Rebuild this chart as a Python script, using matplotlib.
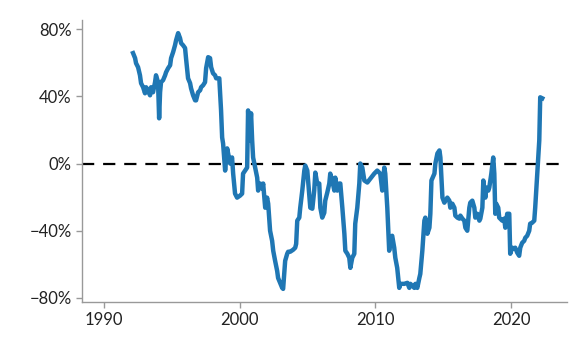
import matplotlib.pyplot as plt
import matplotlib.ticker as mticker

plt.rcParams['font.family'] = ['Lato', 'DejaVu Sans']

# decimal year / percent
years = [
    1992.16, 1992.31, 1992.38, 1992.53, 1992.67, 1992.75, 1992.90, 1993.04, 1993.12, 1993.26,
    1993.41, 1993.49, 1993.63, 1993.78, 1993.85, 1994.00, 1994.08, 1994.15, 1994.22, 1994.37,
    1994.52, 1994.59, 1994.74, 1994.89, 1994.96, 1995.11, 1995.25, 1995.33, 1995.48, 1995.62,
    1995.70, 1995.84, 1995.99, 1996.06, 1996.21, 1996.36, 1996.43, 1996.58, 1996.73, 1996.80,
    1996.95, 1997.10, 1997.17, 1997.32, 1997.46, 1997.54, 1997.69, 1997.83, 1997.91, 1998.05,
    1998.20, 1998.28, 1998.51, 1998.64, 1998.72, 1998.79, 1998.94, 1999.09, 1999.16, 1999.31,
    1999.45, 1999.53, 1999.67, 1999.82, 2000.04, 2000.19, 2000.26, 2000.41, 2000.56, 2000.63,
    2000.71, 2000.85, 2000.93, 2001.00, 2001.15, 2001.30, 2001.37, 2001.52, 2001.67, 2001.74,
    2001.89, 2002.03, 2002.11, 2002.25, 2002.40, 2002.48, 2002.62, 2002.77, 2002.84, 2002.99,
    2003.14, 2003.21, 2003.36, 2003.51, 2003.58, 2003.73, 2003.95, 2004.10, 2004.17, 2004.25,
    2004.40, 2004.47, 2004.62, 2004.77, 2004.84, 2004.99, 2005.13, 2005.21, 2005.36, 2005.50,
    2005.58, 2005.72, 2005.87, 2005.95, 2006.09, 2006.24, 2006.31, 2006.46, 2006.61, 2006.68,
    2006.83, 2006.98, 2007.05, 2007.20, 2007.35, 2007.42, 2007.57, 2007.72, 2007.79, 2007.94,
    2008.08, 2008.16, 2008.30, 2008.45, 2008.52, 2008.67, 2008.82, 2008.89, 2009.04, 2009.19,
    2009.41, 2009.63, 2009.92, 2010.14, 2010.36, 2010.51, 2010.66, 2010.73, 2010.88, 2011.02,
    2011.10, 2011.24, 2011.39, 2011.47, 2011.61, 2011.76, 2011.83, 2012.13, 2012.36, 2012.50,
    2012.58, 2012.87, 2012.95, 2013.09, 2013.24, 2013.31, 2013.46, 2013.61, 2013.68, 2013.83,
    2013.98, 2014.05, 2014.13, 2014.35, 2014.42, 2014.57, 2014.72, 2014.79, 2014.94, 2015.08,
    2015.30, 2015.45, 2015.52, 2015.67, 2015.82, 2015.89, 2016.04, 2016.19, 2016.26, 2016.41,
    2016.55, 2016.63, 2016.77, 2016.92, 2016.99, 2017.14, 2017.29, 2017.36, 2017.51, 2017.66,
    2017.73, 2017.88, 2017.95, 2018.10, 2018.17, 2018.32, 2018.39, 2018.54, 2018.68, 2018.76,
    2018.83, 2018.90, 2019.05, 2019.12, 2019.34, 2019.49, 2019.57, 2019.71, 2019.86, 2019.93,
    2020.08, 2020.23, 2020.30, 2020.45, 2020.59, 2020.67, 2020.81, 2020.96, 2021.04, 2021.18,
    2021.33, 2021.40, 2021.55, 2021.70, 2021.77, 2021.92, 2022.07, 2022.14, 2022.29,
]
values = [
    65.7, 62.7, 59.7, 57.3, 52.5, 47.8, 45.4, 41.8, 45.4, 43.6,
    40.6, 45.4, 42.4, 48.4, 52.5, 48.4, 26.9, 42.4, 48.4, 49.6,
    52.5, 54.3, 56.7, 58.5, 62.7, 66.3, 70.4, 73.4, 77.6, 74.6,
    71.6, 70.4, 68.7, 62.7, 50.7, 47.8, 44.8, 40.6, 37.6, 37.6,
    42.4, 43.6, 45.4, 46.6, 48.4, 56.7, 63.3, 62.7, 57.3, 53.7,
    52.5, 50.7, 50.7, 31.6, 15.5, 11.9, -4.2, 9.0, 6.0, 0.0,
    3.6, -6.0, -17.9, -20.3, -19.1, -17.9, -6.0, -4.2, -2.4, 31.6,
    13.7, 29.9, 13.7, 3.6, -2.4, -8.4, -16.1, -11.9, -14.9, -11.9,
    -26.3, -20.3, -23.9, -40.0, -46.0, -51.9, -57.9, -63.9, -68.1, -71.0,
    -74.0, -74.6, -57.9, -53.7, -52.5, -52.5, -51.3, -50.1, -47.8, -34.0,
    -32.2, -26.3, -16.1, -4.2, -1.2, -4.2, -17.9, -26.3, -26.9, -16.1,
    -5.4, -11.9, -11.9, -26.3, -32.2, -29.3, -22.1, -17.3, -11.9, -6.0,
    -10.1, -16.1, -8.4, -16.1, -11.9, -11.9, -26.3, -41.8, -51.9, -53.7,
    -56.1, -62.1, -56.1, -53.7, -35.8, -26.3, -11.9, 0.0, -2.4, -10.1,
    -11.3, -9.0, -6.0, -4.2, -6.0, -16.1, -2.4, -6.0, -26.3, -51.9,
    -44.2, -43.0, -50.1, -56.1, -62.1, -74.0, -71.6, -71.6, -71.0, -74.0,
    -71.6, -74.0, -71.6, -74.0, -68.1, -65.7, -51.9, -34.0, -32.2, -41.8,
    -38.2, -29.9, -10.1, -6.0, 0.0, 6.0, 7.8, 3.6, -20.3, -23.3,
    -20.3, -22.1, -26.3, -23.9, -26.3, -31.0, -32.2, -32.8, -31.0, -32.8,
    -34.0, -38.2, -40.0, -26.3, -23.3, -22.1, -26.3, -32.2, -29.9, -34.0,
    -32.8, -26.3, -10.1, -20.3, -14.3, -16.1, -14.3, -6.0, 3.6, -6.0,
    -29.9, -23.9, -26.3, -32.2, -34.0, -32.8, -38.2, -29.9, -29.9, -53.7,
    -50.1, -50.7, -50.1, -53.1, -54.9, -50.1, -47.2, -46.0, -44.2, -43.0,
    -40.0, -35.8, -35.2, -34.0, -26.3, -6.0, 13.7, 39.4, 38.8,
]
xticks = [1990, 2000, 2010, 2020]
yticks = [-80, -40, 0, 40, 80]

fig = plt.figure(figsize=(5.79, 3.41), dpi=100)
ax = fig.add_axes([0.1416, 0.1144, 0.8374, 0.8269])

ax.axhline(0, color='black', lw=1.6, dashes=(5.5, 4), zorder=1)
ax.plot(years, values, color='#1f77b4', lw=3.2, solid_joinstyle='round', zorder=2)

ax.set_xlim(1988.4, 2024.1)
ax.set_ylim(-82.4, 85.4)
ax.set_xticks(xticks)
ax.set_yticks(yticks)
ax.yaxis.set_major_formatter(mticker.FuncFormatter(
    lambda v, p: ('%d%%' % v).replace('-', '\u2212')))

for s in ['top', 'right']:
    ax.spines[s].set_visible(False)
for s in ['left', 'bottom']:
    ax.spines[s].set_color('#999999')
    ax.spines[s].set_linewidth(1)
ax.tick_params(colors='#999999', labelcolor='#222222', labelsize=12, length=4, width=1)

fig.savefig('out.png', dpi=100)
